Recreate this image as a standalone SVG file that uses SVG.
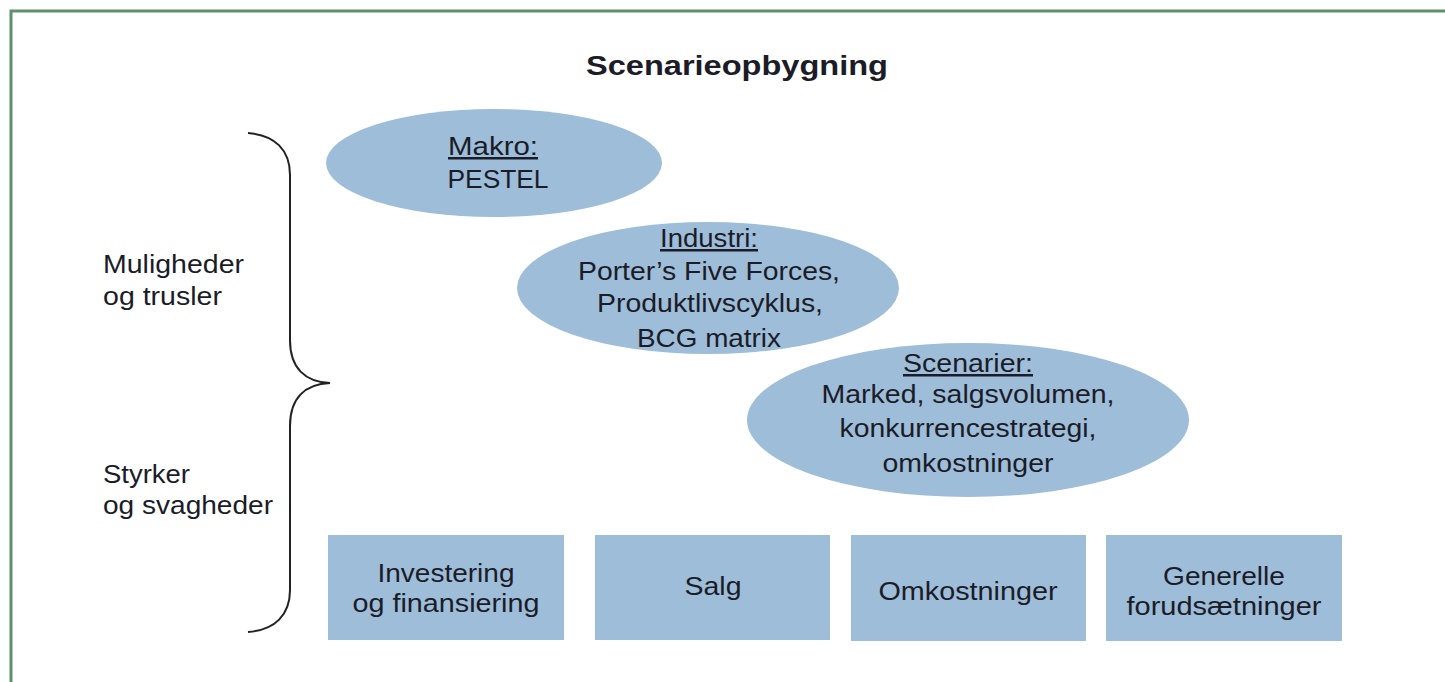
<svg xmlns="http://www.w3.org/2000/svg" width="1445" height="682" viewBox="0 0 1445 682">
<style>
.t{font-family:"Liberation Sans",Arial,sans-serif;font-size:25px;fill:#1c1c28;text-anchor:middle}
.l{font-family:"Liberation Sans",Arial,sans-serif;font-size:25px;fill:#1c1c28;text-anchor:start}
.h{font-family:"Liberation Sans",Arial,sans-serif;font-size:28px;font-weight:bold;fill:#1c1c28;text-anchor:middle}
.u{text-decoration:underline}
.sh{fill:#9dbdd8}
</style>
<rect width="1445" height="682" fill="#ffffff"/>
<rect x="11" y="11" width="1460" height="720" fill="none" stroke="#5f8f6f" stroke-width="3"/>
<text class="h" x="737" y="75" textLength="302" lengthAdjust="spacingAndGlyphs">Scenarieopbygning</text>
<g id="labels">
<text class="l" x="103" y="273" textLength="141" lengthAdjust="spacingAndGlyphs">Muligheder</text>
<text class="l" x="103" y="305" textLength="119" lengthAdjust="spacingAndGlyphs">og trusler</text>
<text class="l" x="103" y="483" textLength="87" lengthAdjust="spacingAndGlyphs">Styrker</text>
<text class="l" x="103" y="514" textLength="170" lengthAdjust="spacingAndGlyphs">og svagheder</text>
</g>
<g id="connectors">
<path d="M248,133 C275,135 290,150 290,175 L290,340 C290,368 305,382 330,383 C305,384 290,398 290,426 L290,590 C290,615 275,630 248,632" fill="none" stroke="#222" stroke-width="2"/>
</g>
<g id="makro">
<ellipse class="sh" cx="494" cy="163" rx="168" ry="54"/>
<text class="t u" x="493" y="155" textLength="90" lengthAdjust="spacingAndGlyphs">Makro:</text>
<text class="t" x="498" y="188" textLength="101" lengthAdjust="spacingAndGlyphs">PESTEL</text>
</g>
<g id="industri">
<ellipse class="sh" cx="708" cy="288" rx="191" ry="66"/>
<text class="t u" x="709" y="247" textLength="98" lengthAdjust="spacingAndGlyphs">Industri:</text>
<text class="t" x="709" y="280" textLength="262" lengthAdjust="spacingAndGlyphs">Porter’s Five Forces,</text>
<text class="t" x="710" y="312" textLength="226" lengthAdjust="spacingAndGlyphs">Produktlivscyklus,</text>
<text class="t" x="709" y="347" textLength="144" lengthAdjust="spacingAndGlyphs">BCG matrix</text>
</g>
<g id="scenarier">
<ellipse class="sh" cx="968" cy="420" rx="221" ry="77"/>
<text class="t u" x="968" y="372" textLength="130" lengthAdjust="spacingAndGlyphs">Scenarier:</text>
<text class="t" x="968" y="403" textLength="293" lengthAdjust="spacingAndGlyphs">Marked, salgsvolumen,</text>
<text class="t" x="968" y="437" textLength="257" lengthAdjust="spacingAndGlyphs">konkurrencestrategi,</text>
<text class="t" x="968" y="472" textLength="171" lengthAdjust="spacingAndGlyphs">omkostninger</text>
</g>
<g id="investering">
<rect class="sh" x="328" y="535" width="236" height="105"/>
<text class="t" x="446" y="582" textLength="137" lengthAdjust="spacingAndGlyphs">Investering</text>
<text class="t" x="446" y="612" textLength="187" lengthAdjust="spacingAndGlyphs">og finansiering</text>
</g>
<g id="salg">
<rect class="sh" x="595" y="535" width="235" height="105"/>
<text class="t" x="713" y="595" textLength="57" lengthAdjust="spacingAndGlyphs">Salg</text>
</g>
<g id="omkostninger">
<rect class="sh" x="851" y="535" width="235" height="106"/>
<text class="t" x="968" y="600" textLength="179" lengthAdjust="spacingAndGlyphs">Omkostninger</text>
</g>
<g id="generelle">
<rect class="sh" x="1106" y="535" width="236" height="106"/>
<text class="t" x="1224" y="585" textLength="122" lengthAdjust="spacingAndGlyphs">Generelle</text>
<text class="t" x="1224" y="615" textLength="195" lengthAdjust="spacingAndGlyphs">forudsætninger</text>
</g>
</svg>
